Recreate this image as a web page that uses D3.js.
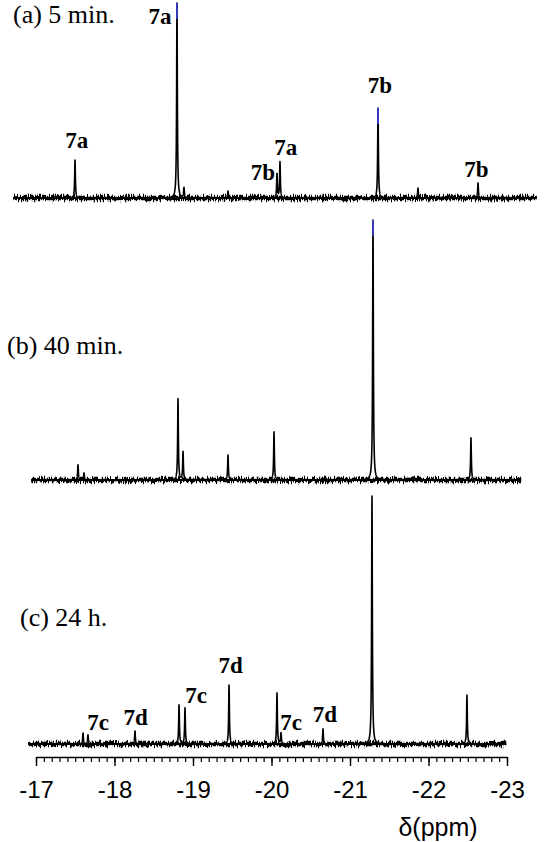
<!DOCTYPE html>
<html><head><meta charset="utf-8">
<script src="https://cdn.jsdelivr.net/npm/d3@7"></script>
<style>
html,body{margin:0;padding:0;background:#fff;}
svg{display:block;}
</style></head>
<body>
<svg id="chart" width="550" height="842"></svg>
<script>
// ---- data (ppm, relative intensity) ----
const panelTitles = ["(a) 5 min.", "(b) 40 min.", "(c) 24 h."];
const spectrumRanges = [[-16.71, -23.38], [-16.94, -23.18], [-16.90, -22.99]];
const peaksA = [
  {ppm: -17.497, h: 14.6}, {ppm: -18.796, h: 75.0}, {ppm: -18.885, h: 3.8},
  {ppm: -19.446, h: 2.7}, {ppm: -20.070, h: 9.2}, {ppm: -20.108, h: 13.8},
  {ppm: -21.357, h: 34.6}, {ppm: -21.866, h: 3.8}, {ppm: -22.631, h: 5.8}
];
const peaksB = [
  {ppm: -17.535, h: 5.8}, {ppm: -17.611, h: 2.7}, {ppm: -18.809, h: 31.2},
  {ppm: -18.873, h: 10.8}, {ppm: -19.446, h: 9.6}, {ppm: -20.032, h: 18.5},
  {ppm: -20.682, h: 1.5}, {ppm: -21.293, h: 100.0}, {ppm: -21.803, h: 1.2},
  {ppm: -22.541, h: 16.2}
];
const peaksC = [
  {ppm: -17.599, h: 4.2}, {ppm: -17.662, h: 3.5}, {ppm: -18.261, h: 5.0},
  {ppm: -18.822, h: 15.0}, {ppm: -18.898, h: 13.8}, {ppm: -19.459, h: 22.7},
  {ppm: -20.070, h: 19.6}, {ppm: -20.121, h: 4.2}, {ppm: -20.656, h: 5.8},
  {ppm: -21.280, h: 95.4}, {ppm: -22.490, h: 18.8}
];
const labelsA = [
  {text: "7a", ppm: -17.52, h: 19.2}, {text: "7a", ppm: -18.58, h: 66.9},
  {text: "7b", ppm: -19.89, h: 6.9}, {text: "7a", ppm: -20.18, h: 16.5},
  {text: "7b", ppm: -21.38, h: 40.4}, {text: "7b", ppm: -22.61, h: 8.1}
];
const labelsB = [];
const labelsC = [
  {text: "7c", ppm: -17.79, h: 5.4}, {text: "7d", ppm: -18.27, h: 7.3},
  {text: "7c", ppm: -19.04, h: 15.8}, {text: "7d", ppm: -19.48, h: 27.3},
  {text: "7c", ppm: -20.25, h: 5.4}, {text: "7d", ppm: -20.68, h: 8.5}
];
const axisTicks = [-17, -18, -19, -20, -21, -22, -23];
const axisTitle = "δ(ppm)";

// ---- layout ----
const svg = d3.select("#chart");
const x = d3.scaleLinear().domain([-17, -23]).range([36, 507]);
const hScale = d3.scaleLinear().domain([0, 100]).range([0, 260]);
const baselines = [198, 480, 744];
const titlePos = [[13, 23], [7, 354], [20, 626]];
const tipThreshold = [30, 50, 1000];
const allPeaks = [peaksA, peaksB, peaksC];
const allLabels = [labelsA, labelsB, labelsC];
const width = 0.0055;

const defs = svg.append("defs");
const f = defs.append("filter").attr("id", "noise")
  .attr("filterUnits", "userSpaceOnUse")
  .attr("x", 0).attr("y", 0).attr("width", 550).attr("height", 842);
f.append("feTurbulence").attr("type", "fractalNoise")
  .attr("baseFrequency", "1.3 0.08").attr("numOctaves", 2).attr("seed", 7).attr("result", "t");
f.append("feColorMatrix").attr("in", "t").attr("type", "matrix")
  .attr("values", "0 0 0 0 0.5  0 2.4 0 0 -0.7  0 0 1 0 0  0 0 0 0 1").attr("result", "t2");
f.append("feDisplacementMap").attr("in", "SourceGraphic").attr("in2", "t2")
  .attr("scale", 4).attr("xChannelSelector", "R").attr("yChannelSelector", "G");

allPeaks.forEach((peaks, i) => {
  const base = baselines[i];
  const [p0, p1] = spectrumRanges[i];
  const pts = [];
  for (let p = p0; p >= p1; p -= 0.001) {
    let v = 0;
    for (const pk of peaks) {
      const d = p - pk.ppm;
      v += pk.h * width * width / (d * d + width * width);
    }
    pts.push([p, v]);
  }
  const line = d3.line().x(d => x(d[0])).y(d => base - hScale(d[1]));
  const g = svg.append("g");
  // noisy baseline band
  g.append("path").datum([[p0, 0], [p1, 0]]).attr("d", line)
    .attr("fill", "none").attr("stroke", "#000").attr("stroke-width", 4.6)
    .attr("filter", "url(#noise)");
  g.append("path").datum([[p0, 0], [p1, 0]]).attr("d", line)
    .attr("fill", "none").attr("stroke", "#000").attr("stroke-width", 2.2);
  g.append("path").datum(pts).attr("d", line)
    .attr("fill", "none").attr("stroke", "#000").attr("stroke-width", 1.6)
    .attr("stroke-linejoin", "round");
  // blue tips on the tallest peaks
  peaks.filter(pk => pk.h > tipThreshold[i]).forEach((pk, j) => {
    const id = `tip${i}_${j}`;
    const top = base - hScale(pk.h);
    defs.append("clipPath").attr("id", id).append("rect")
      .attr("x", x(pk.ppm) - 3).attr("y", top - 2).attr("width", 6).attr("height", 18);
    g.append("path").datum(pts).attr("d", line).attr("clip-path", `url(#${id})`)
      .attr("fill", "none").attr("stroke", "#3b3fd6").attr("stroke-width", 1.5);
  });
  svg.append("text").attr("x", titlePos[i][0]).attr("y", titlePos[i][1])
    .attr("font-family", "Liberation Serif, Times New Roman, serif")
    .attr("font-size", 26).text(panelTitles[i]);
  allLabels[i].forEach(l => {
    svg.append("text").attr("x", x(l.ppm)).attr("y", base - hScale(l.h))
      .attr("text-anchor", "middle")
      .attr("font-family", "Liberation Serif, Times New Roman, serif")
      .attr("font-weight", "bold").attr("font-size", 23).text(l.text);
  });
});

// ---- axis ----
const axisY = 757;
const minor = d3.range(-17, -23.001, -0.1).map(v => Math.round(v * 10) / 10);
svg.append("g").attr("transform", `translate(0,${axisY})`)
  .call(d3.axisBottom(x).tickValues(minor).tickSize(5).tickSizeOuter(0).tickFormat(""))
  .call(g => g.selectAll("line,path").attr("stroke", "#000").attr("stroke-width", 1.2));
svg.append("g").attr("transform", `translate(0,${axisY})`)
  .call(d3.axisBottom(x).tickValues(axisTicks).tickSize(9).tickSizeOuter(0).tickPadding(15)
    .tickFormat(d => String(d)))
  .call(g => g.selectAll("line,path").attr("stroke", "#000").attr("stroke-width", 1.4))
  .call(g => g.selectAll("text").attr("font-family", "Liberation Sans, Arial, sans-serif")
    .attr("font-size", 24).attr("fill", "#000"));
svg.append("text").attr("x", 438).attr("y", 836).attr("text-anchor", "middle")
  .attr("font-family", "Liberation Sans, Arial, sans-serif").attr("font-size", 25)
  .text(axisTitle);
</script>
</body></html>
